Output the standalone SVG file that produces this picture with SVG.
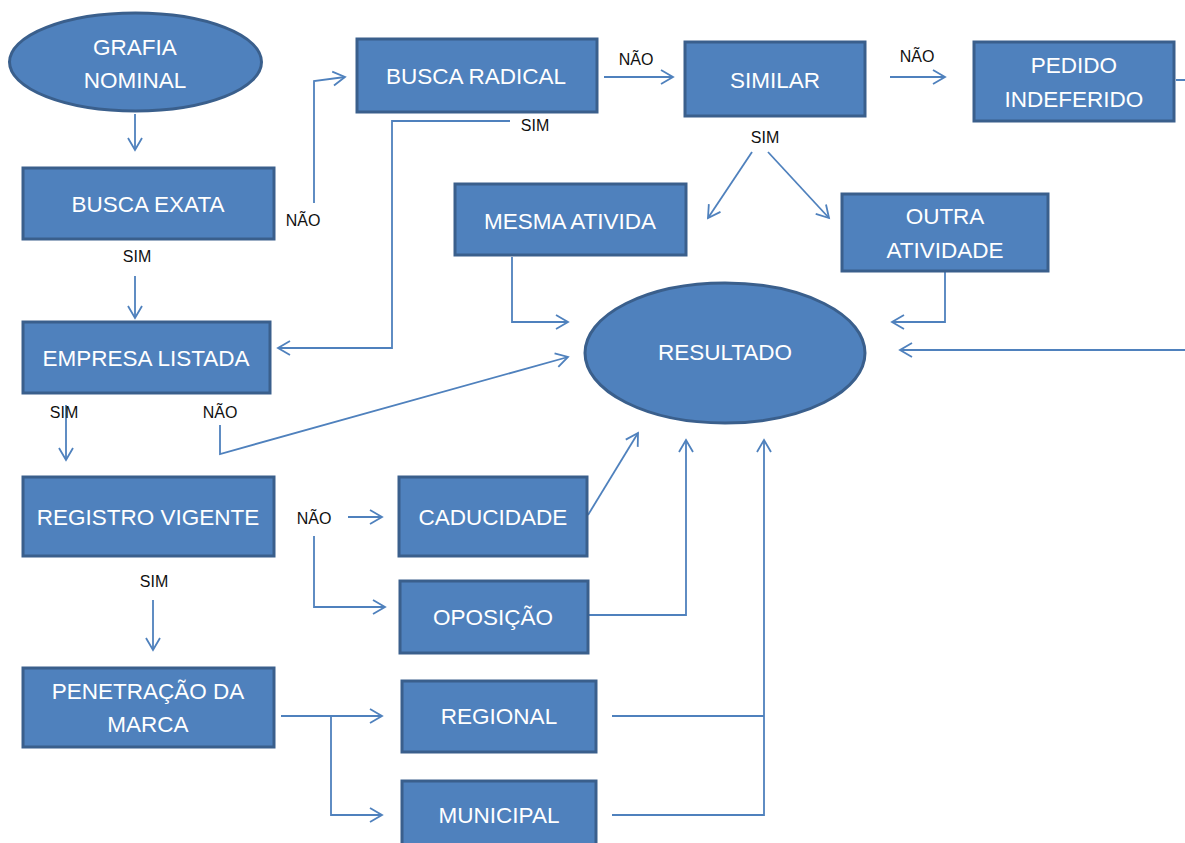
<svg xmlns="http://www.w3.org/2000/svg" width="1185" height="843" viewBox="0 0 1185 843">
<defs>
<style>
.n{fill:#4F81BD;stroke:#3A5F8C;stroke-width:3}
.t{fill:#fff;font-family:"Liberation Sans",Arial,sans-serif;font-size:22.5px;text-anchor:middle;dominant-baseline:central}
.l{fill:#111;font-family:"Liberation Sans",Arial,sans-serif;font-size:16px;text-anchor:middle;dominant-baseline:central}
.c{fill:none;stroke:#4F81BD;stroke-width:1.8}
</style>
<marker id="a" markerUnits="userSpaceOnUse" markerWidth="16" markerHeight="18" refX="13" refY="8" orient="auto" viewBox="0 0 16 16">
<path d="M1,1 L13,8 L1,15" fill="none" stroke="#4F81BD" stroke-width="1.8"/>
</marker>
</defs>
<rect width="1185" height="843" fill="#fff"/>
<g id="connectors">
<path class="c" d="M135,114 V150" marker-end="url(#a)"/>
<path class="c" d="M314,203 V81 L345,77" marker-end="url(#a)"/>
<path class="c" d="M135,276 V318" marker-end="url(#a)"/>
<path class="c" d="M510,121 H392 V348 H278" marker-end="url(#a)"/>
<path class="c" d="M604,77 H673" marker-end="url(#a)"/>
<path class="c" d="M890,77 H945" marker-end="url(#a)"/>
<path class="c" d="M752,152 L708,218" marker-end="url(#a)"/>
<path class="c" d="M768,152 L829,218" marker-end="url(#a)"/>
<path class="c" d="M1176,80 H1190 V350 H900" marker-end="url(#a)"/>
<path class="c" d="M512,257 V322 H568" marker-end="url(#a)"/>
<path class="c" d="M945,272 V322 H892" marker-end="url(#a)"/>
<path class="c" d="M66,405 V460" marker-end="url(#a)"/>
<path class="c" d="M220,425 V454 L568,357" marker-end="url(#a)"/>
<path class="c" d="M348,517 H382" marker-end="url(#a)"/>
<path class="c" d="M314,536 V607 H385" marker-end="url(#a)"/>
<path class="c" d="M153,600 V650" marker-end="url(#a)"/>
<path class="c" d="M588,515 L638,433" marker-end="url(#a)"/>
<path class="c" d="M589,615 H686 V440" marker-end="url(#a)"/>
<path class="c" d="M281,716 H382" marker-end="url(#a)"/>
<path class="c" d="M331,716 V815 H382" marker-end="url(#a)"/>
<path class="c" d="M612,716 H764"/>
<path class="c" d="M612,815 H764 V440" marker-end="url(#a)"/>
</g>
<g id="labels">
<text class="l" x="303" y="220">NÃO</text>
<text class="l" x="137" y="256">SIM</text>
<text class="l" x="535" y="125">SIM</text>
<text class="l" x="636" y="59">NÃO</text>
<text class="l" x="917" y="56">NÃO</text>
<text class="l" x="765" y="137">SIM</text>
<text class="l" x="64" y="412">SIM</text>
<text class="l" x="220" y="412">NÃO</text>
<text class="l" x="314" y="518">NÃO</text>
<text class="l" x="154" y="581">SIM</text>
</g>
<g id="grafia"><ellipse class="n" cx="135.5" cy="62" rx="126" ry="49"/><text class="t" x="135" y="47">GRAFIA</text><text class="t" x="135" y="80">NOMINAL</text></g>
<g id="busca-exata"><rect class="n" x="23" y="168" width="251" height="71"/><text class="t" x="148" y="204">BUSCA EXATA</text></g>
<g id="empresa-listada"><rect class="n" x="23" y="322" width="247" height="71"/><text class="t" x="146" y="358">EMPRESA LISTADA</text></g>
<g id="registro-vigente"><rect class="n" x="23" y="477" width="251" height="79"/><text class="t" x="148" y="517">REGISTRO VIGENTE</text></g>
<g id="penetracao"><rect class="n" x="23" y="668" width="251" height="79"/><text class="t" x="148" y="691">PENETRAÇÃO DA</text><text class="t" x="148" y="724">MARCA</text></g>
<g id="busca-radical"><rect class="n" x="357" y="39" width="240" height="73"/><text class="t" x="476" y="76">BUSCA RADICAL</text></g>
<g id="similar"><rect class="n" x="685" y="42" width="180" height="74"/><text class="t" x="775" y="80">SIMILAR</text></g>
<g id="pedido"><rect class="n" x="974" y="42" width="200" height="79"/><text class="t" x="1074" y="65">PEDIDO</text><text class="t" x="1074" y="99">INDEFERIDO</text></g>
<g id="mesma"><rect class="n" x="455" y="184" width="231" height="71"/><text class="t" x="570" y="221">MESMA ATIVIDA</text></g>
<g id="outra"><rect class="n" x="842" y="194" width="206" height="77"/><text class="t" x="945" y="216">OUTRA</text><text class="t" x="945" y="250">ATIVIDADE</text></g>
<g id="resultado"><ellipse class="n" cx="725" cy="353" rx="140" ry="70"/><text class="t" x="725" y="352">RESULTADO</text></g>
<g id="caducidade"><rect class="n" x="399" y="477" width="188" height="79"/><text class="t" x="493" y="517">CADUCIDADE</text></g>
<g id="oposicao"><rect class="n" x="400" y="581" width="188" height="72"/><text class="t" x="493" y="617">OPOSIÇÃO</text></g>
<g id="regional"><rect class="n" x="402" y="681" width="194" height="71"/><text class="t" x="499" y="716">REGIONAL</text></g>
<g id="municipal"><rect class="n" x="402" y="781" width="194" height="70"/><text class="t" x="499" y="815">MUNICIPAL</text></g>
</svg>
